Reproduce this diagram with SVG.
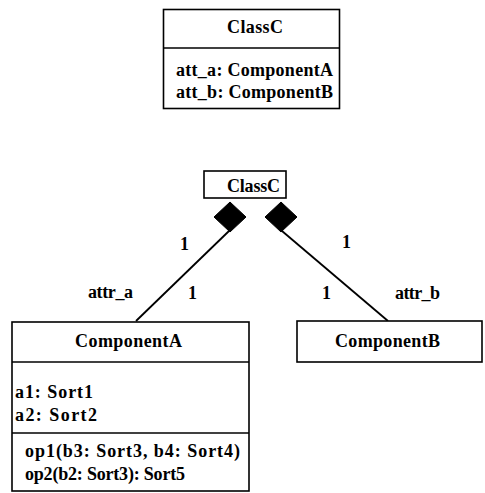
<svg xmlns="http://www.w3.org/2000/svg" width="485" height="493" viewBox="0 0 485 493" font-family="Liberation Serif, DejaVu Serif, serif">
<style>
.box{fill:#fff;stroke:#000;stroke-width:1.6}
.div{stroke:#000;stroke-width:1.6}
.t{font-family:'Liberation Serif','DejaVu Serif',serif;font-size:18px;font-weight:bold;fill:#000}
.c{stroke:#000;stroke-width:1.8;fill:none}
.dia{fill:#000;stroke:#000}
</style>
<rect width="485" height="493" fill="#fff"/>
<g id="classC_top">
<rect class="box" x="163.5" y="9.5" width="176" height="99"/>
<line class="div" x1="163.5" y1="48" x2="339.5" y2="48"/>
<text class="t" x="227" y="33" textLength="56" lengthAdjust="spacing">ClassC</text>
<text class="t" x="176" y="76" textLength="157" lengthAdjust="spacing">att_a: ComponentA</text>
<text class="t" x="176" y="98" textLength="157" lengthAdjust="spacing">att_b: ComponentB</text>
</g>
<g id="connectors">
<line class="c" x1="229" y1="231" x2="136" y2="321"/>
<line class="c" x1="282" y1="231" x2="388" y2="321"/>
<polygon class="dia" points="230,202 246,217 230,232 214,217"/>
<polygon class="dia" points="281,202 297,217 281,232 265,217"/>
<text class="t" x="180" y="250">1</text>
<text class="t" x="188" y="299">1</text>
<text class="t" x="88" y="298" textLength="45" lengthAdjust="spacing">attr_a</text>
<text class="t" x="342" y="248">1</text>
<text class="t" x="322" y="299">1</text>
<text class="t" x="395" y="299" textLength="45" lengthAdjust="spacing">attr_b</text>
</g>
<g id="classC">
<rect class="box" x="204" y="171" width="82" height="27"/>
<text class="t" x="227" y="192" textLength="53" lengthAdjust="spacing">ClassC</text>
</g>
<g id="componentA">
<rect class="box" x="12" y="322" width="237" height="169"/>
<line class="div" x1="12" y1="362" x2="249" y2="362"/>
<line class="div" x1="12" y1="433" x2="249" y2="433"/>
<text class="t" x="75" y="347" textLength="107" lengthAdjust="spacing">ComponentA</text>
<text class="t" x="15" y="398" textLength="78" lengthAdjust="spacing">a1: Sort1</text>
<text class="t" x="15" y="421" textLength="82" lengthAdjust="spacing">a2: Sort2</text>
<text class="t" x="25" y="457" textLength="215" lengthAdjust="spacing">op1(b3: Sort3, b4: Sort4)</text>
<text class="t" x="25" y="480" textLength="160" lengthAdjust="spacing">op2(b2: Sort3): Sort5</text>
</g>
<g id="componentB">
<rect class="box" x="297" y="321" width="185" height="41"/>
<text class="t" x="335" y="347" textLength="105" lengthAdjust="spacing">ComponentB</text>
</g>
</svg>
